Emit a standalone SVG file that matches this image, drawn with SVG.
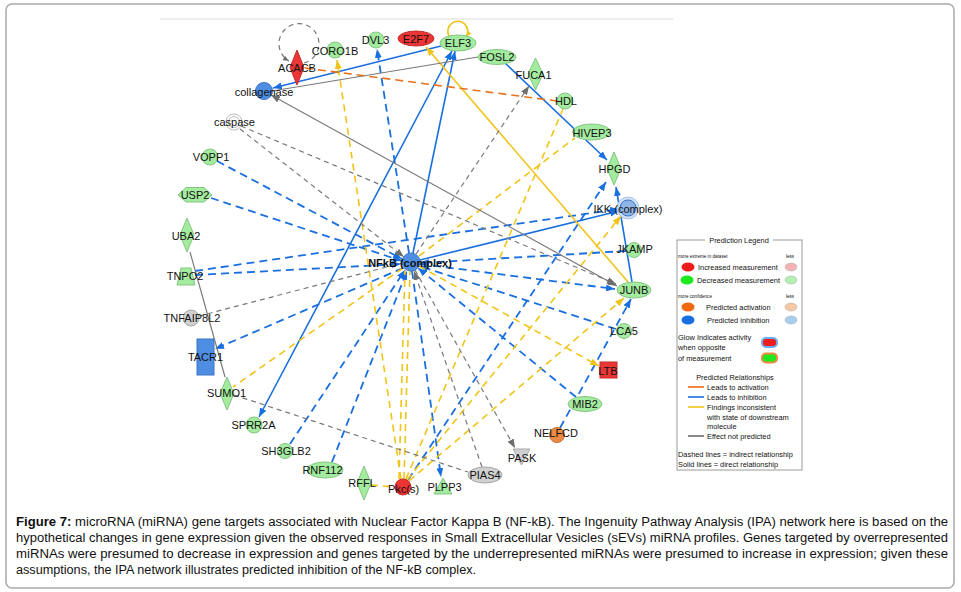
<svg xmlns="http://www.w3.org/2000/svg" width="961" height="592" viewBox="0 0 961 592">
<style>
.t{font-family:"Liberation Sans",Arial,sans-serif;font-size:11px;fill:#111;text-anchor:middle}
.g{fill:#a3eb9e;stroke:#86c684;stroke-width:1}
.r{fill:#ec3535;stroke:#c42a2a;stroke-width:1}
.b{fill:#4d8ee2;stroke:#3c74c4;stroke-width:1}
.gr{fill:#d0d0d0;stroke:#a8a8a8;stroke-width:1}
.o{fill:#ea8b48;stroke:#c9702d;stroke-width:1}
.bs{stroke:#1a6fe0;stroke-width:1.6;fill:none}
.bd{stroke:#1a6fe0;stroke-width:1.8;fill:none;stroke-dasharray:8 5}
.ys{stroke:#f0c419;stroke-width:1.6;fill:none}
.yd{stroke:#f0c419;stroke-width:1.6;fill:none;stroke-dasharray:7 5}
.gs{stroke:#7a7a7a;stroke-width:1.2;fill:none}
.gd{stroke:#7a7a7a;stroke-width:1.2;fill:none;stroke-dasharray:5 4}
.od{stroke:#e8721c;stroke-width:1.6;fill:none;stroke-dasharray:8 5}
.lg{font-family:"Liberation Sans",Arial,sans-serif;font-size:7.4px;fill:#111}
.ls{font-family:"Liberation Sans",Arial,sans-serif;font-size:4.6px;fill:#111}
.cap{font-family:"Liberation Sans",Arial,sans-serif;font-size:12.5px;fill:#111}
</style>
<defs>
<marker id="ab" markerUnits="userSpaceOnUse" markerWidth="9" markerHeight="7" refX="9" refY="3.5" orient="auto-start-reverse"><path d="M0,0 L9,3.5 L0,7 z" fill="#1a6fe0"/></marker>
<marker id="ay" markerUnits="userSpaceOnUse" markerWidth="9" markerHeight="7" refX="9" refY="3.5" orient="auto-start-reverse"><path d="M0,0 L9,3.5 L0,7 z" fill="#f0c419"/></marker>
<marker id="ag" markerUnits="userSpaceOnUse" markerWidth="9" markerHeight="7" refX="9" refY="3.5" orient="auto-start-reverse"><path d="M0,0 L9,3.5 L0,7 z" fill="#6e6e6e"/></marker>
<marker id="ays" markerUnits="userSpaceOnUse" markerWidth="6" markerHeight="5" refX="6" refY="2.5" orient="auto"><path d="M0,0 L6,2.5 L0,5 z" fill="#f0c419"/></marker>
<marker id="ags" markerUnits="userSpaceOnUse" markerWidth="6" markerHeight="5" refX="6" refY="2.5" orient="auto"><path d="M0,0 L6,2.5 L0,5 z" fill="#6e6e6e"/></marker>
</defs>
<rect x="0" y="0" width="961" height="592" fill="#fff"/>
<rect x="6" y="4" width="948" height="584" rx="6" fill="none" stroke="#a9a9a9" stroke-width="1.5"/>
<line x1="160" y1="19" x2="673" y2="19" stroke="#dcdcdc" stroke-width="1"/>

<g id="edges">
<path class="bs" d="M441,46 L273,88" marker-end="url(#ab)"/>
<path class="bs" d="M413,253 L455,51" marker-end="url(#ab)"/>
<path class="bs" d="M452,51 L259,417" marker-start="url(#ab)" marker-end="url(#ab)"/>
<path class="bs" d="M505,63 L607,160" marker-end="url(#ab)"/>
<path class="bs" d="M632,282 L616,187" marker-end="url(#ab)"/>
<path class="bs" d="M420,260 L619,211" marker-end="url(#ab)"/>
<path class="bd" d="M409,253 L377,49" marker-end="url(#ab)"/>
<path class="bd" d="M217,161 L402,259" marker-end="url(#ab)"/>
<path class="bd" d="M211,198 L402,261" marker-end="url(#ab)"/>
<path class="bd" d="M195,275 L401,264" marker-end="url(#ab)"/>
<path class="bd" d="M195,271 L619,209" marker-end="url(#ab)"/>
<path class="bd" d="M403,268 L215,349" marker-end="url(#ab)"/>
<path class="bd" d="M290,444 L405,270" marker-end="url(#ab)"/>
<path class="bd" d="M332,462 L407,271" marker-end="url(#ab)"/>
<path class="bd" d="M412,271 L441,477" marker-end="url(#ab)"/>
<path class="bd" d="M408,480 L606,182" marker-end="url(#ab)"/>
<path class="bd" d="M626,251 L420,263" marker-end="url(#ab)"/>
<path class="bd" d="M420,264 L615,289" marker-end="url(#ab)"/>
<path class="bd" d="M616,329 L419,266" marker-end="url(#ab)"/>
<path class="bd" d="M576,397 L418,268" marker-end="url(#ab)"/>
<path class="bd" d="M560,428 L631,299" marker-end="url(#ab)"/>

<path class="ys" d="M449,36 A10,10 0 1 1 466,37" marker-end="url(#ays)"/>
<path class="ys" d="M628,282 L426,47" marker-end="url(#ay)"/>
<path class="yd" d="M401,479 L337,60" marker-end="url(#ay)"/>
<path class="yd" d="M406,479 L563,109"/>
<path class="yd" d="M419,256 L575,138"/>
<path class="yd" d="M403,268 L233,387"/>
<path class="yd" d="M419,266 L599,366" marker-end="url(#ay)"/>
<path class="yd" d="M409,481 L624,298" marker-end="url(#ay)"/>
<path class="yd" d="M407,480 L621,216" marker-end="url(#ay)"/>
<path class="yd" d="M404,479 L410,271"/>
<path class="yd" d="M399,479 L405,271"/>
<path class="yd" d="M371,485 L395,487"/>

<path class="gd" d="M304,63 A20,20 0 1 0 289,61" marker-end="url(#ags)"/>
<path class="gs" d="M478,57 L272,91"/>
<path class="gs" d="M271,95 L617,286" marker-start="url(#ag)" marker-end="url(#ag)"/>
<path class="gd" d="M241,126 L616,284" marker-end="url(#ag)"/>
<path class="gd" d="M240,129 L404,257" marker-end="url(#ag)"/>
<path class="gd" d="M199,316 L402,263"/>
<path class="gs" d="M190,252 L225,377"/>
<path class="gd" d="M234,395 L468,472"/>
<path class="gd" d="M482,467 L414,271" marker-end="url(#ag)"/>
<path class="gd" d="M415,270 L515,448" marker-end="url(#ag)"/>
<path class="gd" d="M416,254 L529,86" marker-end="url(#ag)"/>
<path class="od" d="M305,68 L557,101"/>
</g>

<g id="nfkb"><circle cx="411" cy="262" r="9" class="b"/><text x="410" y="267" class="t" style="font-weight:bold">NFkB (complex)</text></g>
<g id="acacb"><polygon points="297,50 304,67.5 297,85 290,67.5" class="r"/><text x="297" y="72" class="t">ACACB</text></g>
<g id="coro1b"><circle cx="335" cy="50" r="8" class="g"/><text x="335" y="55" class="t">CORO1B</text></g>
<g id="dvl3"><circle cx="376" cy="40" r="8" class="g"/><text x="375.5" y="44" class="t">DVL3</text></g>
<g id="e2f7"><ellipse cx="416" cy="38.5" rx="18" ry="7.5" class="r"/><text x="416" y="42.5" class="t">E2F7</text></g>
<g id="elf3"><ellipse cx="458" cy="43" rx="18" ry="8" class="g"/><text x="458" y="47" class="t">ELF3</text></g>
<g id="fosl2"><ellipse cx="497" cy="57" rx="19" ry="7.5" class="g"/><text x="497" y="61" class="t">FOSL2</text></g>
<g id="fuca1"><polygon points="535.5,58 543,74 535.5,90 528,74" class="g"/><text x="533.5" y="79" class="t">FUCA1</text></g>
<g id="hdl"><circle cx="565" cy="101" r="8" class="g"/><text x="566" y="105" class="t">HDL</text></g>
<g id="hivep3"><ellipse cx="591.5" cy="132" rx="19" ry="8" class="g"/><text x="592" y="137" class="t">HIVEP3</text></g>
<g id="hpgd"><polygon points="614,152 621,168.5 614,185 607,168.5" class="g"/><text x="614.5" y="172.5" class="t">HPGD</text></g>
<g id="ikk"><circle cx="628" cy="208" r="11" fill="#cfe0f5" stroke="#a9c6ec"/><circle cx="628" cy="208" r="8" class="b" style="fill:#8fb5e8"/><text x="628" y="213" class="t">IKK (complex)</text></g>
<g id="jkamp"><circle cx="634" cy="250" r="7.5" class="g"/><text x="634.5" y="253" class="t">JKAMP</text></g>
<g id="junb"><ellipse cx="634" cy="290" rx="17" ry="8" class="g"/><text x="634" y="294" class="t">JUNB</text></g>
<g id="lca5"><circle cx="624" cy="331" r="7.5" class="g"/><text x="624" y="335" class="t">LCA5</text></g>
<g id="ltb"><rect x="600" y="362" width="17" height="16" class="r"/><text x="608" y="375" class="t">LTB</text></g>
<g id="mib2"><ellipse cx="585" cy="404" rx="17" ry="7.5" class="g"/><text x="585" y="408" class="t">MIB2</text></g>
<g id="nelfcd"><circle cx="557" cy="435" r="7.5" class="o"/><text x="556" y="437" class="t">NELFCD</text></g>
<g id="pask"><polygon points="513,449 530,449 521.5,465" class="gr"/><text x="522" y="462" class="t">PASK</text></g>
<g id="pias4"><ellipse cx="485" cy="475" rx="17" ry="8" class="gr"/><text x="485" y="479" class="t">PIAS4</text></g>
<g id="plpp3"><polygon points="443,478 452,494 434,494" class="g"/><text x="444.5" y="491" class="t">PLPP3</text></g>
<g id="pkcs"><circle cx="403" cy="487" r="8" class="r"/><text x="403.5" y="493" class="t">Pkc(s)</text></g>
<g id="rffl"><polygon points="364,466 371,483 364,500 357,483" class="g"/><text x="362" y="487" class="t">RFFL</text></g>
<g id="rnf112"><ellipse cx="325" cy="470" rx="18" ry="8" class="g"/><text x="322.5" y="474" class="t">RNF112</text></g>
<g id="sh3glb2"><circle cx="285" cy="451" r="7.5" class="g"/><text x="286" y="455" class="t">SH3GLB2</text></g>
<g id="sprr2a"><circle cx="254" cy="425" r="8" class="g"/><text x="253.5" y="429" class="t">SPRR2A</text></g>
<g id="sumo1"><polygon points="227,377 234,393.5 227,410 220,393.5" class="g"/><text x="226.5" y="397" class="t">SUMO1</text></g>
<g id="tacr1"><rect x="197" y="339" width="17" height="36" class="b"/><text x="205.5" y="361" class="t">TACR1</text></g>
<g id="tnfaip8l2"><circle cx="191" cy="318" r="8" class="gr"/><text x="192" y="322" class="t">TNFAIP8L2</text></g>
<g id="tnpo2"><polygon points="181,268 191,268 195,285 177,285" class="g"/><text x="185" y="280" class="t">TNPO2</text></g>
<g id="uba2"><polygon points="187,218 194,235 187,252 180,235" class="g"/><text x="186" y="240" class="t">UBA2</text></g>
<g id="usp2"><polygon points="178,195 186,187.5 204,187.5 212,195 204,202 186,202" class="g"/><text x="195" y="199" class="t">USP2</text></g>
<g id="vopp1"><circle cx="210" cy="157" r="8" class="g"/><text x="211" y="161" class="t">VOPP1</text></g>
<g id="caspase"><circle cx="234" cy="122" r="8" fill="#fff" stroke="#bbb"/><circle cx="234" cy="122" r="5.5" fill="#fff" stroke="#bbb"/><text x="234.5" y="126" class="t">caspase</text></g>
<g id="collagenase"><circle cx="264" cy="91" r="8.5" class="b"/><text x="264" y="96" class="t">collagenase</text></g>

<g id="legend">
<rect x="677" y="240" width="125" height="230" fill="#fff" stroke="#9a9a9a" stroke-width="1"/>
<rect x="705" y="235" width="68" height="10" fill="#fff"/>
<text x="739" y="242.5" class="lg" text-anchor="middle">Prediction Legend</text>
<text x="678" y="258" class="ls">more extreme in dataset</text>
<text x="786" y="258" class="ls">less</text>
<ellipse cx="688" cy="267" rx="6.5" ry="4.5" fill="#ee1c1c"/>
<text x="698" y="270" class="lg">Increased measurement</text>
<ellipse cx="791" cy="267" rx="6" ry="4" fill="#f6b3b3" stroke="#aaa" stroke-width="0.5"/>
<ellipse cx="687" cy="280" rx="6.5" ry="4.5" fill="#1ee81e"/>
<text x="697" y="283" class="lg">Decreased measurement</text>
<ellipse cx="791" cy="280" rx="6" ry="4" fill="#b2f0b2" stroke="#aaa" stroke-width="0.5"/>
<text x="678" y="298" class="ls">more confidence</text>
<text x="786" y="298" class="ls">less</text>
<ellipse cx="688" cy="307" rx="6.5" ry="4.5" fill="#f06a14"/>
<text x="706" y="310" class="lg">Predicted activation</text>
<ellipse cx="791" cy="307" rx="6" ry="4" fill="#f7c9a3" stroke="#aaa" stroke-width="0.5"/>
<ellipse cx="688" cy="320" rx="6.5" ry="4.5" fill="#1a6fe0"/>
<text x="707" y="323" class="lg">Predicted inhibition</text>
<ellipse cx="791" cy="320" rx="6" ry="4" fill="#a6ccef" stroke="#aaa" stroke-width="0.5"/>
<text x="678" y="340" class="lg">Glow Indicates activity</text>
<text x="678" y="350" class="lg">when opposite</text>
<text x="678" y="361" class="lg">of measurement</text>
<rect x="762" y="338" width="15" height="9" rx="4" fill="#ee1c1c" stroke="#6aaef0" stroke-width="2"/>
<rect x="762" y="353.5" width="15" height="9" rx="4" fill="#1ee81e" stroke="#f08a3c" stroke-width="2"/>
<text x="735" y="380" class="lg" text-anchor="middle">Predicted Relationships</text>
<line x1="688" y1="387" x2="704" y2="387" stroke="#f06a14" stroke-width="1.6"/>
<text x="707" y="390" class="lg">Leads to activation</text>
<line x1="688" y1="397" x2="704" y2="397" stroke="#1a6fe0" stroke-width="1.6"/>
<text x="707" y="400" class="lg">Leads to inhibition</text>
<line x1="688" y1="407" x2="704" y2="407" stroke="#f0c419" stroke-width="1.6"/>
<text x="707" y="410" class="lg">Findings inconsistent</text>
<text x="707" y="420" class="lg">with state of downstream</text>
<text x="707" y="429" class="lg">molecule</text>
<line x1="688" y1="436" x2="704" y2="436" stroke="#6e6e6e" stroke-width="1.6"/>
<text x="707" y="439" class="lg">Effect not predicted</text>
<text x="678" y="457" class="lg">Dashed lines = indirect relationship</text>
<text x="678" y="467" class="lg">Solid lines = direct relationship</text>
</g>

<g id="caption">
<text x="16" y="526" class="cap" textLength="932" lengthAdjust="spacingAndGlyphs"><tspan font-weight="bold">Figure 7:</tspan> microRNA (miRNA) gene targets associated with Nuclear Factor Kappa B (NF-kB). The Ingenuity Pathway Analysis (IPA) network here is based on the</text>
<text x="16" y="542" class="cap" textLength="932" lengthAdjust="spacingAndGlyphs">hypothetical changes in gene expression given the observed responses in Small Extracellular Vesicles (sEVs) miRNA profiles. Genes targeted by overrepresented</text>
<text x="16" y="558" class="cap" textLength="932" lengthAdjust="spacingAndGlyphs">miRNAs were presumed to decrease in expression and genes targeted by the underrepresented miRNAs were presumed to increase in expression; given these</text>
<text x="16" y="574" class="cap" textLength="460" lengthAdjust="spacingAndGlyphs">assumptions, the IPA network illustrates predicted inhibition of the NF-kB complex.</text>
</g>
</svg>
